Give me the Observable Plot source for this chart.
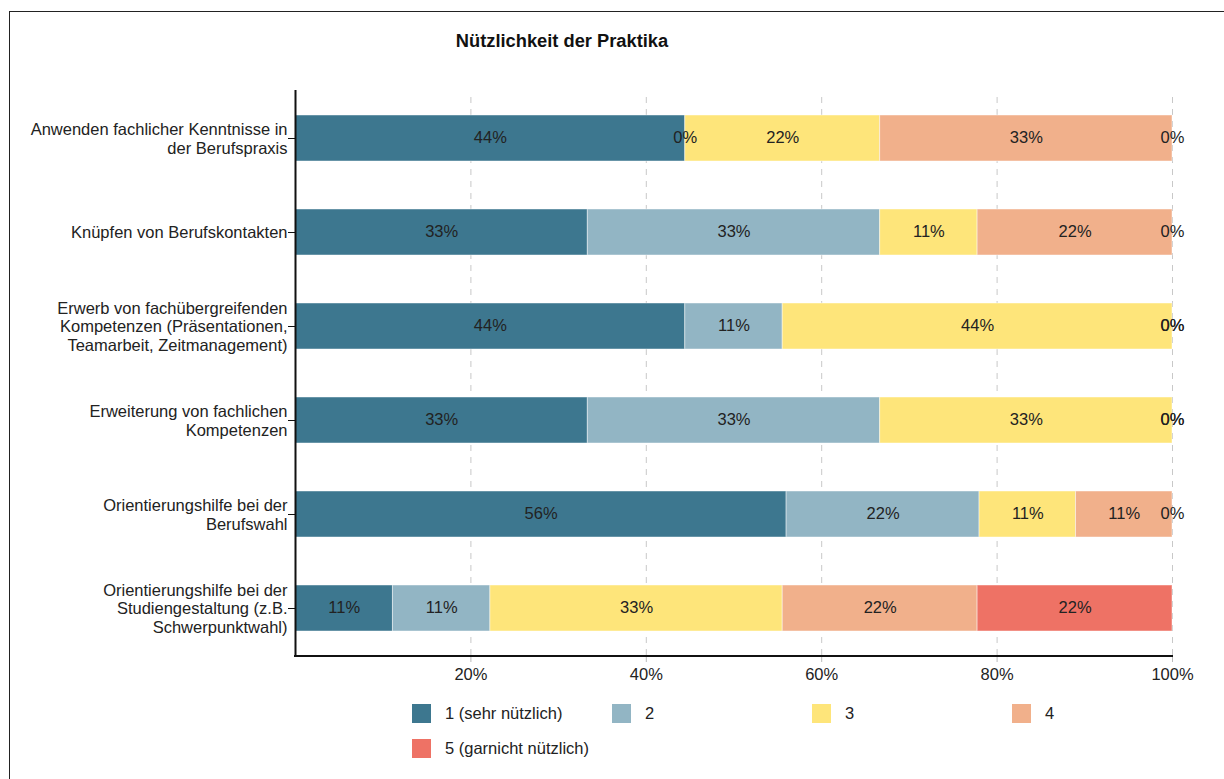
<!DOCTYPE html>
<html>
<head>
<meta charset="utf-8">
<script src="https://cdn.jsdelivr.net/npm/d3@7"></script>
<script src="https://cdn.jsdelivr.net/npm/@observablehq/plot@0.6"></script>
<style>
  html, body { margin: 0; padding: 0; background: #fff; }
  body { font-family: Arial, "Liberation Sans", Helvetica, sans-serif; }
  #wrap { position: relative; width: 1224px; height: 779px; overflow: hidden; }
  #border { position: absolute; left: 9px; top: 11px; width: 1300px; height: 900px; border-top: 1.5px solid #222; border-left: 1.5px solid #222; }
  #title { position: absolute; left: 0; width: 1124px; top: 30px; text-align: center; font-weight: bold; font-size: 18.3px; color: #111; }
  #chart { position: absolute; left: 0; top: 0; }
  #legend { position: absolute; left: 412px; top: 704px; width: 800px; }
  .item { position: absolute; display: flex; align-items: center; font-size: 16.5px; color: #222; }
  .sw { width: 19px; height: 19px; margin-right: 14px; }
</style>
</head>
<body>
<div id="wrap">
  <div id="border"></div>
  <div id="chart"></div>
  <div id="title"></div>
  <div id="legend"></div>
</div>
<script>
const title = "Nützlichkeit der Praktika";
const categories = [
  "Anwenden fachlicher Kenntnisse in\nder Berufspraxis",
  "Knüpfen von Berufskontakten",
  "Erwerb von fachübergreifenden\nKompetenzen (Präsentationen,\nTeamarbeit, Zeitmanagement)",
  "Erweiterung von fachlichen\nKompetenzen",
  "Orientierungshilfe bei der\nBerufswahl",
  "Orientierungshilfe bei der\nStudiengestaltung (z.B.\nSchwerpunktwahl)"
];
const levels = ["1 (sehr nützlich)", "2", "3", "4", "5 (garnicht nützlich)"];
const colors = ["#3d778f", "#92b5c4", "#fee57a", "#f1b08b", "#ee7265"];
// percentages per category, in level order
const level1 = [44, 33, 44, 33, 56, 11];
const level2 = [0, 33, 11, 33, 22, 11];
const level3 = [22, 11, 44, 33, 11, 33];
const level4 = [33, 22, 0, 0, 11, 22];
const level5 = [0, 0, 0, 0, 0, 22];
const xTicks = [0.2, 0.4, 0.6, 0.8, 1.0];

const series = [level1, level2, level3, level4, level5];
const table = [];
categories.forEach((c, i) => {
  levels.forEach((l, j) => {
    table.push({category: c, level: l, order: j, value: series[j][i]});
  });
});

document.getElementById("title").textContent = title;

const W = 1224, H = 700;
const mL = 295, mR = 52, mT = 90, mB = 44;
const FS = 16.5;

const bottomAxisLine = (index, scales, values, dims) => {
  const g = d3.create("svg:line")
    .attr("x1", dims.marginLeft - 1)
    .attr("x2", dims.width - dims.marginRight + 1)
    .attr("y1", dims.height - dims.marginBottom)
    .attr("y2", dims.height - dims.marginBottom)
    .attr("stroke", "#111")
    .attr("stroke-width", 2);
  return g.node();
};

const chart = Plot.plot({
  width: W,
  height: H,
  marginLeft: mL,
  marginRight: mR,
  marginTop: mT,
  marginBottom: mB,
  style: {fontFamily: "Arial, 'Liberation Sans', Helvetica, sans-serif", background: "transparent", overflow: "visible"},
  x: {domain: [0, 1]},
  y: {domain: categories, paddingInner: 0.51, paddingOuter: 0.255},
  color: {domain: levels, range: colors},
  marks: [
    Plot.gridX(xTicks, {stroke: "#c8c8c8", strokeOpacity: 1, strokeDasharray: "6,6", insetTop: 7}),
    Plot.barX(table, Plot.stackX({
      x: "value", y: "category", z: "level", fill: "level",
      order: levels, offset: "normalize",
      stroke: "#fff", strokeOpacity: 0.45, strokeWidth: 1
    })),
    Plot.text(table, Plot.stackX({
      x: "value", y: "category", z: "level",
      order: levels, offset: "normalize",
      text: d => d.value + "%",
      fill: "#222", fontSize: FS, dy: -1
    })),
    Plot.axisX({ticks: xTicks, tickFormat: d => Math.round(d * 100) + "%", tickSize: 6, stroke: "#bbb", fill: "#222", fontSize: FS, tickPadding: 6, label: null}),
    Plot.axisY({tickSize: 7, stroke: "#111", fill: "#222", fontSize: FS, tickPadding: 1, lineHeight: 1.11, label: null}),
    Plot.ruleX([0], {stroke: "#111", strokeWidth: 2}),
    bottomAxisLine
  ]
});
document.getElementById("chart").appendChild(chart);

const legend = document.getElementById("legend");
levels.forEach((l, j) => {
  const it = document.createElement("div");
  it.className = "item";
  it.style.left = (j % 4) * 200 + "px";
  it.style.top = Math.floor(j / 4) * 35 + "px";
  const sw = document.createElement("div");
  sw.className = "sw";
  sw.style.background = colors[j];
  const tx = document.createElement("span");
  tx.textContent = l;
  it.appendChild(sw);
  it.appendChild(tx);
  legend.appendChild(it);
});
</script>
</body>
</html>
